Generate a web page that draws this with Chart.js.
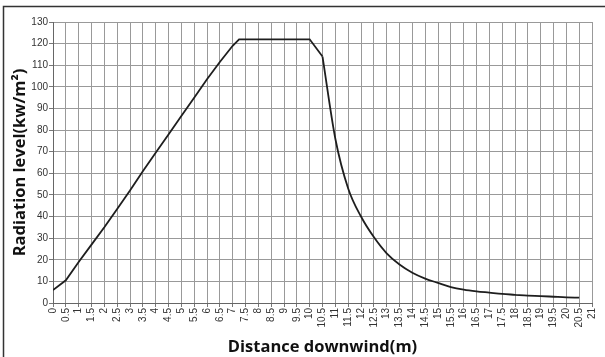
<!DOCTYPE html>
<html><head><meta charset="utf-8">
<script src="https://cdn.jsdelivr.net/npm/chart.js@4"></script>
<style>html,body{margin:0;padding:0;background:#fff;}#wrap{position:relative;width:605px;height:357px;}canvas{display:block;}</style>
</head><body><div id="wrap"><canvas id="c" width="605" height="357"></canvas></div>
<script>
const distance  = [0,0.5,1,1.5,2,2.5,3,3.5,4,4.5,5,5.5,6,6.5,7,7.25,7.5,8,8.5,9,9.5,10,10.5,11,11.5,12,12.5,13,13.5,14,14.5,15,15.5,16,16.5,17,17.5,18,18.5,19,19.5,20,20.5];
const radiation = [6,10.5,19,27,35,43.5,52,61,69.5,78,86.5,95,103.5,111.5,119,122,122,122,122,122,122,122,114,76,53,40,30.5,23,17.8,14,11.3,9.3,7.4,6.2,5.4,4.8,4.2,3.8,3.4,3.2,2.9,2.6,2.5];
const xTitle = 'Distance downwind(m)';
const yTitle = 'Radiation level(kw/m²)';
const xRange = [0, 21], xStep = 0.5;
const yRange = [0, 130], yStep = 10;
const decayStart = 10.5;

const frame = {
  id: 'frame',
  afterDraw(chart) {
    const ctx = chart.ctx;
    ctx.save();
    ctx.strokeStyle = '#333';
    ctx.lineWidth = 1.5;
    ctx.beginPath();
    ctx.moveTo(3.5, 357); ctx.lineTo(3.5, 6.5); ctx.lineTo(605, 6.5);
    ctx.stroke();
    ctx.restore();
  }
};

const pts = distance.map((d, i) => ({x: d, y: radiation[i]}));
const rise = pts.filter(p => p.x <= decayStart);
const decay = pts.filter(p => p.x >= decayStart);

const tickFont = {family: "'Liberation Sans Narrow','Liberation Sans',Arial,sans-serif", size: 10};
const titleFont = {family: "'Open Sans',sans-serif", size: 16.5, weight: 'bold'};
const lineStyle = {borderColor: '#1e1e1e', borderWidth: 1.8, pointRadius: 0, fill: false};

new Chart(document.getElementById('c'), {
  type: 'line',
  data: {
    datasets: [
      Object.assign({data: rise, tension: 0}, lineStyle),
      Object.assign({data: decay, cubicInterpolationMode: 'monotone'}, lineStyle)
    ]
  },
  options: {
    responsive: false,
    animation: false,
    devicePixelRatio: 1,
    layout: {padding: {top: 22, right: 11.5, left: 0, bottom: 0}},
    plugins: {legend: {display: false}, tooltip: {enabled: false}},
    scales: {
      x: {
        type: 'linear', min: xRange[0], max: xRange[1],
        afterFit(s) { s.height = 54; },
        ticks: {stepSize: xStep, autoSkip: false, minRotation: 90, maxRotation: 90, padding: 1,
                color: '#333', font: tickFont,
                callback: v => String(v)},
        grid: {color: '#999', lineWidth: 1, tickLength: 4, tickColor: '#777'},
        border: {color: '#666', width: 1},
        title: {display: true, text: xTitle, color: '#111', font: titleFont, padding: {top: 0, bottom: 0}}
      },
      y: {
        min: yRange[0], max: yRange[1],
        afterFit(s) { s.width = 53; },
        ticks: {stepSize: yStep, padding: 1, color: '#333', font: tickFont},
        grid: {color: '#999', lineWidth: 1, tickLength: 4, tickColor: '#777'},
        border: {color: '#666', width: 1},
        title: {display: true, text: yTitle, color: '#111', font: titleFont, padding: {top: 10, bottom: 0}}
      }
    }
  },
  plugins: [frame]
});
</script></body></html>
